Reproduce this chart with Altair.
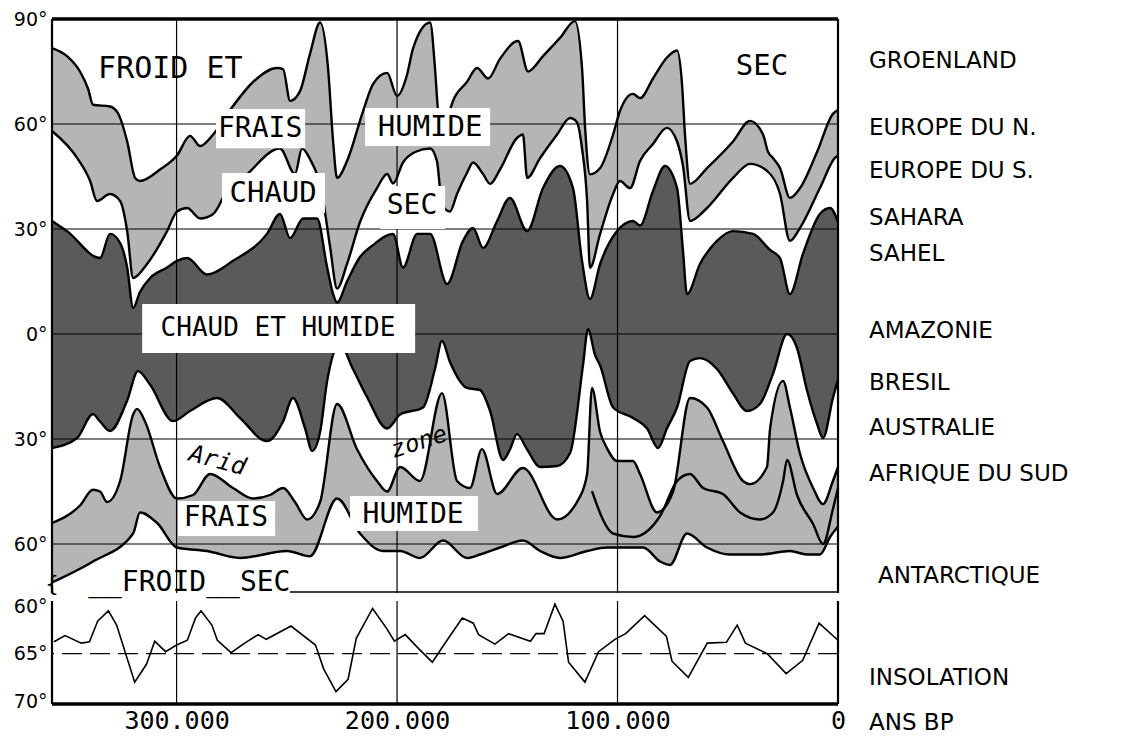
import altair as alt
import pandas as pd

# ---------------- data (kyr BP, latitude in degrees) ----------------
# N1: northern limit of the cool/humid belt
N1_K = [356.5, 349.7, 343.8, 340.1, 337.9, 330.2, 326.5, 322.4, 318.8, 316.6, 307.5, 299.8, 293.9, 289.3,
        283.4, 275.7, 265.3, 254.4, 251.7, 248.5, 244.0, 239.5, 234.9, 231.3, 229.0, 227.2, 222.7, 215.4,
        210.9, 204.5, 200.0, 195.5, 192.7, 185.0, 182.8, 181.4, 179.6, 176.0, 174.6, 168.3, 163.7, 158.7,
        153.3, 145.1, 140.6, 133.8, 126.1, 119.3, 116.1, 114.7, 112.5, 107.9, 102.0, 98.9, 93.0, 89.8,
        83.9, 77.6, 73.0, 70.7, 69.4, 67.1, 59.4, 47.6, 39.9, 34.0, 31.7, 29.5, 26.3, 21.8, 17.2, 9.5, 2.3, 0]
N1_LAT = [81.7, 79.4, 75, 70, 65.5, 65, 63, 55, 44.6, 43.7, 47, 51, 56.6, 53.7,
          57, 64, 72, 76, 75.7, 66.6, 69.4, 80, 89, 76, 55, 44.6, 49.4, 63.7,
          71.4, 74.6, 68, 74, 81.7, 89, 76, 63.7, 58, 64, 66.6, 72, 76, 73,
          78.6, 83.7, 75, 79.4, 84.6, 89.4, 76, 58.9, 45.6, 47.4, 57, 63.7, 68.6, 67.4,
          73, 79, 81, 71, 57, 42.9, 47.4, 55, 60.9, 57, 52, 50.3, 47.4, 38.9, 41.7, 52, 62.9, 64]

# N3: southern limit of the northern temperate belt
N3_K = [356.5, 345.1, 339.2, 336.1, 330.2, 325.6, 322.4, 319.7, 313.4, 304.3, 299.8, 295.2, 289.3, 283.4,
        277.1, 269.8, 253.1, 246.3, 243.1, 239.5, 234.0, 230.4, 227.2, 222.7, 216.8, 209.1, 204.5, 201.8,
        197.3, 191.8, 185.0, 181.9, 179.6, 176.0, 172.8, 168.3, 165.5, 161.0, 157.8, 153.3, 145.6, 142.9,
        141.0, 135.1, 127.4, 121.5, 118.4, 116.1, 113.8, 112.5, 107.9, 102.0, 98.9, 94.3, 89.8, 83.9,
        77.6, 73.0, 70.3, 67.1, 59.4, 47.6, 39.9, 32.2, 26.3, 21.8, 17.2, 8.2, 1.4, 0]
N3_LAT = [58, 50.3, 43.7, 38, 40, 38, 29.4, 16, 20, 29.4, 35, 36, 33, 34.3,
          40.9, 44.6, 53, 45.7, 53, 50, 40, 25, 13, 20, 32, 41.7, 45.7, 43,
          49, 52, 53, 49.4, 37, 35, 40, 46, 49, 45.7, 42.9, 47, 56, 57,
          44.6, 50.3, 57, 61.7, 60.5, 53, 38, 18.9, 28.6, 40, 43.7, 41.7, 49.4, 54.3,
          58.9, 55, 48, 32.3, 36, 44.6, 48.6, 46.6, 40, 26.6, 30.3, 41.7, 50.3, 51]

# N4: northern edge of the warm & humid belt
N4_K = [356.5, 349.7, 334.7, 330.2, 325.6, 322.4, 319.7, 316.6, 312.0, 304.3, 299.8, 295.2, 286.2, 274.4,
        259.0, 253.1, 248.5, 242.6, 236.3, 231.7, 229.0, 227.2, 222.7, 216.8, 210.9, 201.8, 197.3, 190.9,
        185.0, 177.3, 170.1, 165.5, 161.0, 154.6, 148.8, 141.0, 133.8, 126.1, 120.2, 116.1, 112.5, 107.9,
        100.2, 93.0, 89.8, 83.9, 78.5, 73.0, 70.3, 68.5, 62.6, 54.9, 47.6, 38.5, 30.8, 26.3, 21.8, 15.9,
        8.2, 3.6, 0]
N4_LAT = [32.3, 29.4, 21.7, 28.6, 26, 19, 7.5, 12, 16, 19, 20.9, 21.7, 17, 20.9,
          28.6, 34.3, 27.4, 33, 33, 19, 11.4, 9, 15, 22, 25.4, 28.6, 19, 28.6,
          28.6, 14.3, 26.6, 30.3, 24.6, 32.3, 38.9, 29.4, 41.7, 48, 41.7, 20.9, 10, 20,
          29.4, 32.3, 31, 40.9, 48, 41.7, 23.7, 11.4, 20, 26.6, 29.4, 28.6, 24, 21.7, 11.4, 22.9,
          34.3, 36, 32]

# S4: southern edge of the warm & humid belt
S4_K = [356.5, 345.1, 337.9, 334.7, 330.2, 322.4, 317.5, 312.0, 301.6, 293.9, 281.6, 271.2, 259.0, 251.7,
        247.2, 241.7, 238.5, 234.9, 231.7, 225.9, 220.0, 213.6, 204.5, 198.6, 188.2, 182.8, 179.6, 176.0,
        168.3, 162.4, 157.8, 151.9, 148.8, 145.6, 141.0, 135.1, 127.4, 121.5, 115.6, 113.4, 110.2, 107.9,
        102.0, 93.0, 86.6, 81.6, 77.6, 73.0, 67.1, 62.6, 54.9, 47.6, 41.3, 35.4, 29.5, 23.1, 18.6, 14.1,
        9.5, 6.8, 2.3, 0]
S4_LAT = [-32.6, -29.7, -22.9, -25, -27.7, -19, -10.6, -14.5, -24.9, -22, -18.3, -24, -30.6, -25,
          -18.3, -27, -33.4, -28, -13.4, -3, -10, -18, -27, -23, -21, -10, -2, -8,
          -15.4, -16, -22, -36, -33, -28.6, -33, -38, -37.7, -34, -8.6, 1.4, -6, -9,
          -21, -24, -27, -32.6, -27, -21, -7.7, -6.9, -10, -17, -22, -20, -11.4, 0, -4, -16,
          -25.7, -29.7, -18.3, -13]

# S3: northern limit of the southern temperate belt
S3_K = [356.5, 343.8, 337.9, 334.7, 331.5, 325.6, 319.7, 317.9, 314.3, 307.5, 299.8, 292.5, 284.8, 274.4,
        265.3, 257.6, 251.7, 246.3, 240.8, 234.9, 227.2, 218.1, 209.1, 204.5, 198.6, 189.6, 179.6, 172.8,
        166.9, 161.5, 154.6, 142.9, 127.4, 117.5, 113.8, 111.6, 107.9, 104.8, 100.2, 93.0, 89.8, 82.1,
        74.8, 67.1, 59.4, 52.2, 43.1, 39.9, 32.2, 30.8, 24.9, 21.8, 17.2, 11.3, 6.8, 2.3, 0]
S3_LAT = [-54, -49, -44.5, -45, -48, -42, -23, -21.4, -25, -38, -47, -46, -40, -44,
          -47, -46, -44, -48, -53, -48, -20, -33, -42, -45, -38, -42, -16.9, -42,
          -44, -32.9, -45.7, -38.3, -53, -47, -40, -15.4, -28, -32.6, -36.3, -36.3, -40, -51,
          -45, -18.3, -21, -30.6, -42, -42.9, -38, -27, -13.4, -21, -34.3, -44, -48.6, -42, -38]

# S2: internal limit inside the southern belt
S2_K = [111.6, 102.0, 93.0, 80.7, 73.0, 67.1, 61.2, 52.2, 44.4, 35.4, 29.5, 24.9, 23.1, 18.6, 11.3, 6.8, 2.3, 0]
S2_LAT = [-44.9, -57, -58, -52, -42, -40, -44, -45.7, -51, -53, -51, -42, -36, -46, -54.3, -60, -50, -44]

# S1: southern limit of the southern temperate belt
S1_K = [356.5, 337.9, 319.7, 316.6, 308.8, 299.8, 286.2, 271.2, 249.9, 239.5, 227.2, 216.8, 206.3, 198.6,
        189.6, 179.1, 168.3, 162.4, 153.3, 142.9, 135.1, 126.1, 113.8, 104.8, 88.4, 80.7, 76.2, 68.5,
        59.4, 49.0, 35.4, 21.8, 14.1, 8.2, 3.6, 0]
S1_LAT = [-71, -65, -57, -51, -54, -61, -62, -64, -62, -63.5, -47, -57, -62, -62,
          -64, -59, -64, -63, -61, -59, -62, -64, -62, -61, -61, -65, -66, -57,
          -61, -63, -63, -62, -63, -63, -58, -55]

# Insolation (latitude equivalent of summer insolation)
INS_K = [355.6, 350.6, 343.2, 339.5, 335.8, 330.9, 327.2, 319.0, 313.6, 309.9, 305.0, 300.0, 295.1, 291.4,
         288.9, 284.0, 281.5, 275.3, 269.1, 263.0, 259.3, 248.1, 237.0, 233.3, 227.7, 222.2, 218.5, 211.1,
         204.9, 201.2, 196.3, 190.1, 184.0, 177.8, 170.4, 165.4, 163.0, 155.6, 149.4, 139.5, 137.0, 133.3,
         128.4, 124.7, 122.2, 114.8, 108.6, 101.2, 96.3, 87.7, 77.8, 75.3, 67.9, 59.3, 50.6, 45.7, 42.0,
         32.1, 23.5, 16.0, 8.6, 0]
INS_LAT = [63.75, 63.1, 63.9, 63.75, 61.6, 60.5, 62.0, 68.0, 66.1, 63.7, 64.8, 64.1, 63.6, 61.25,
           60.5, 62.0, 63.6, 64.9, 63.9, 63.0, 63.5, 62.1, 64.1, 66.6, 69.0, 67.7, 63.4, 60.25,
           62.3, 63.7, 63.0, 64.5, 65.9, 63.75, 61.25, 61.8, 63.0, 64.0, 62.9, 63.7, 62.9, 62.9,
           59.8, 61.6, 65.9, 68.0, 64.8, 63.5, 62.9, 61.0, 63.2, 65.8, 67.5, 63.9, 63.8, 62.0, 63.9,
           65.0, 67.1, 65.7, 61.8, 63.6]

LAT_TICKS = [90, 60, 30, 0, -30, -60]
INS_TICKS = [60, 65, 70]
AGE_TICKS = [300, 200, 100, 0]
GRID_AGES = [300, 200, 100]
GRID_LATS = [60, 30, 0, -30, -60]

REGIONS = ["GROENLAND", "EUROPE DU N.", "EUROPE DU S.", "SAHARA", "SAHEL",
           "AMAZONIE", "BRESIL", "AUSTRALIE", "AFRIQUE DU SUD"]
REGION_LAT = [78.0, 58.9, 46.6, 33.1, 22.9, 0.9, -14.0, -26.9, -40.0]

# annotation texts (label, kyr, lat, size, align)
NOTE_TXT = ["FROID ET", "FRAIS", "HUMIDE", "CHAUD", "SEC", "SEC", "CHAUD ET HUMIDE", "FRAIS", "HUMIDE", "__FROID__SEC"]
NOTE_K = [335.6, 262.1, 185.0, 256.2, 193.2, 34.5, 254.0, 277.6, 192.7, 340.1]
NOTE_LAT = [75.7, 58.6, 59.1, 40.3, 36.6, 76.6, 1.7, -52.6, -51.7, -71.1]
NOTE_SIZE = [30, 28, 29, 29, 28, 29, 26, 28, 28, 28]
NOTE_ALIGN = ["left", "center", "center", "center", "center", "center", "center", "center", "center", "left"]

# white label boxes (kyr left, kyr right, lat top, lat bottom)
BOX_K1 = [282.1, 214.5, 279.4, 207.7, 315.6, 299.3, 221.3]
BOX_K2 = [241.7, 157.8, 232.7, 178.2, 191.8, 255.3, 163.3]
BOX_L1 = [64.3, 64.6, 46.0, 42.3, 8.6, -47.7, -46.3]
BOX_L2 = [53.1, 53.7, 34.6, 30.0, -5.4, -57.7, -56.3]

# ---------------- chart ----------------
W, H1, H2 = 786, 574, 103
LIGHT, DARK, WHITE = "#b5b5b5", "#5a5a5a", "#ffffff"
MONO, SANS = "DejaVu Sans Mono", "DejaVu Sans"
LAT_MIN, LAT_MAX, K_MAX = -74, 90, 356.5

xs = alt.Scale(domain=[0, K_MAX], reverse=True, nice=False, zero=False)
ys = alt.Scale(domain=[LAT_MIN, LAT_MAX], nice=False, zero=False)
yax = alt.Axis(values=LAT_TICKS, labelExpr="abs(datum.value) + '°'", ticks=False, domain=False,
               grid=False, labelFont=SANS, labelFontSize=19, labelColor="black", labelPadding=5, title=None)


def curve(k, v):
    return pd.DataFrame({"kyr": k, "lat": v})


def X():
    return alt.X("kyr:Q", scale=xs, axis=None)


def Y():
    return alt.Y("lat:Q", scale=ys, axis=yax)


def fill(k, v, color):
    return alt.Chart(curve(k, v)).mark_area(color=color, opacity=1, interpolate="monotone").encode(
        x=X(), y=Y(), y2=alt.datum(LAT_MIN))


def edge(k, v):
    return alt.Chart(curve(k, v)).mark_line(color="black", strokeWidth=2.4, interpolate="monotone").encode(
        x=X(), y=Y())


fills = [fill(N1_K, N1_LAT, LIGHT), fill(N3_K, N3_LAT, WHITE), fill(N4_K, N4_LAT, DARK),
         fill(S4_K, S4_LAT, WHITE), fill(S3_K, S3_LAT, LIGHT), fill(S1_K, S1_LAT, WHITE)]

hgrid = alt.Chart(pd.DataFrame({"lat": GRID_LATS})).mark_rule(color="black", strokeWidth=1.2).encode(y=Y())
vgrid = alt.Chart(pd.DataFrame({"kyr": GRID_AGES})).mark_rule(color="black", strokeWidth=1.2).encode(x=X())

edges = [edge(N1_K, N1_LAT), edge(N3_K, N3_LAT), edge(N4_K, N4_LAT), edge(S4_K, S4_LAT),
         edge(S3_K, S3_LAT), edge(S2_K, S2_LAT), edge(S1_K, S1_LAT)]

boxes = alt.Chart(pd.DataFrame({"k1": BOX_K1, "k2": BOX_K2, "l1": BOX_L1, "l2": BOX_L2})).mark_rect(
    color=WHITE, opacity=1).encode(
    x=alt.X("k1:Q", scale=xs, axis=None), x2="k2:Q",
    y=alt.Y("l1:Q", scale=ys, axis=yax), y2="l2:Q")

notes_df = pd.DataFrame({"t": NOTE_TXT, "kyr": NOTE_K, "lat": NOTE_LAT, "fs": NOTE_SIZE, "al": NOTE_ALIGN})
notes_c = alt.Chart(notes_df).transform_filter("datum.al == 'center'").mark_text(
    font=MONO, align="center", baseline="middle", color="black").encode(
    x=X(), y=Y(), text="t:N", size=alt.Size("fs:Q", scale=None, legend=None))
notes_l = alt.Chart(notes_df).transform_filter("datum.al == 'left'").mark_text(
    font=MONO, align="left", baseline="middle", color="black").encode(
    x=X(), y=Y(), text="t:N", size=alt.Size("fs:Q", scale=None, legend=None))

arid = alt.Chart(pd.DataFrame({"t": ["Arid"], "kyr": [281.5], "lat": [-36.3]})).mark_text(
    font=MONO, fontSize=24, fontStyle="italic", angle=15, color="black").encode(x=X(), y=Y(), text="t:N")
zone = alt.Chart(pd.DataFrame({"t": ["zone"], "kyr": [190.0], "lat": [-31.0]})).mark_text(
    font=MONO, fontSize=24, fontStyle="italic", angle=342, color="black").encode(x=X(), y=Y(), text="t:N")

top_rule = alt.Chart(pd.DataFrame({"lat": [LAT_MAX]})).mark_rule(color="black", strokeWidth=3.5).encode(y=Y())
side_rules = alt.Chart(pd.DataFrame({"kyr": [K_MAX, 0]})).mark_rule(color="black", strokeWidth=2.2).encode(x=X())
bottom_rule = alt.Chart(pd.DataFrame({"k1": [248.5], "k2": [0], "lat": [LAT_MIN + 0.3]})).mark_rule(
    color="black", strokeWidth=1.6).encode(x=alt.X("k1:Q", scale=xs, axis=None), x2="k2:Q", y=Y())

brace = alt.Chart(pd.DataFrame({"t": ["{"], "lat": [-71.3]})).mark_text(
    font=SANS, fontSize=22, color="black", align="center", baseline="middle").encode(
    x=alt.value(0), y=Y(), text="t:N")

regions = alt.Chart(pd.DataFrame({"t": REGIONS, "lat": REGION_LAT})).mark_text(
    font=SANS, fontSize=23, align="left", baseline="middle", color="black").encode(
    x=alt.value(W + 31), y=Y(), text="t:N")
antarc = alt.Chart(pd.DataFrame({"t": ["ANTARCTIQUE"], "lat": [-69.1]})).mark_text(
    font=SANS, fontSize=23, align="left", baseline="middle", color="black").encode(
    x=alt.value(W + 40), y=Y(), text="t:N")

upper = alt.layer(*fills, hgrid, vgrid, *edges, boxes, notes_c, notes_l, arid, zone,
                  top_rule, side_rules, bottom_rule, brace, regions, antarc).properties(width=W, height=H1)

# ---- lower panel: insolation ----
ys2 = alt.Scale(domain=[59.47, 70.3], reverse=True, nice=False, zero=False)
yax2 = alt.Axis(values=INS_TICKS, labelExpr="datum.value + '°'", ticks=False, domain=False, grid=False,
                labelFont=SANS, labelFontSize=19, labelColor="black", labelPadding=5, title=None)
xax2 = alt.Axis(values=AGE_TICKS, labelExpr="datum.value == 0 ? '0' : datum.value + '.000'", ticks=False,
                domain=False, grid=False, labelFont=MONO, labelFontSize=25, labelColor="black",
                labelPadding=4, labelFlush=False, title=None)


def X2():
    return alt.X("kyr:Q", scale=xs, axis=xax2)


def Y2():
    return alt.Y("lat:Q", scale=ys2, axis=yax2)


ins = alt.Chart(curve(INS_K, INS_LAT)).mark_line(color="black", strokeWidth=1.6).encode(x=X2(), y=Y2())
ref65 = alt.Chart(pd.DataFrame({"lat": [65]})).mark_rule(color="black", strokeWidth=1.4,
                                                          strokeDash=[20, 8]).encode(y=Y2())
vgrid2 = alt.Chart(pd.DataFrame({"kyr": GRID_AGES})).mark_rule(color="black", strokeWidth=1.2).encode(x=X2())
sides2 = alt.Chart(pd.DataFrame({"kyr": [K_MAX, 0]})).mark_rule(color="black", strokeWidth=2.2).encode(x=X2())
bottom2 = alt.Chart(pd.DataFrame({"lat": [70.3]})).mark_rule(color="black", strokeWidth=3.5).encode(y=Y2())
ins_lab = alt.Chart(pd.DataFrame({"t": ["INSOLATION", "ANS BP"], "lat": [67.6, 72.3],
                                  "kyr": [0, 0]})).mark_text(
    font=SANS, fontSize=23, align="left", baseline="middle", color="black").encode(
    x=alt.value(W + 31), y=Y2(), text="t:N")

lower = alt.layer(vgrid2, ref65, ins, sides2, bottom2, ins_lab).properties(width=W, height=H2)

chart = alt.vconcat(upper, lower, spacing=8, bounds="flush").properties(
    background="white",
    padding={"left": 13, "top": 10, "right": 0, "bottom": 0},
).configure_view(stroke=None)

chart.save("out.html", embed_options={"renderer": "svg", "actions": False})
